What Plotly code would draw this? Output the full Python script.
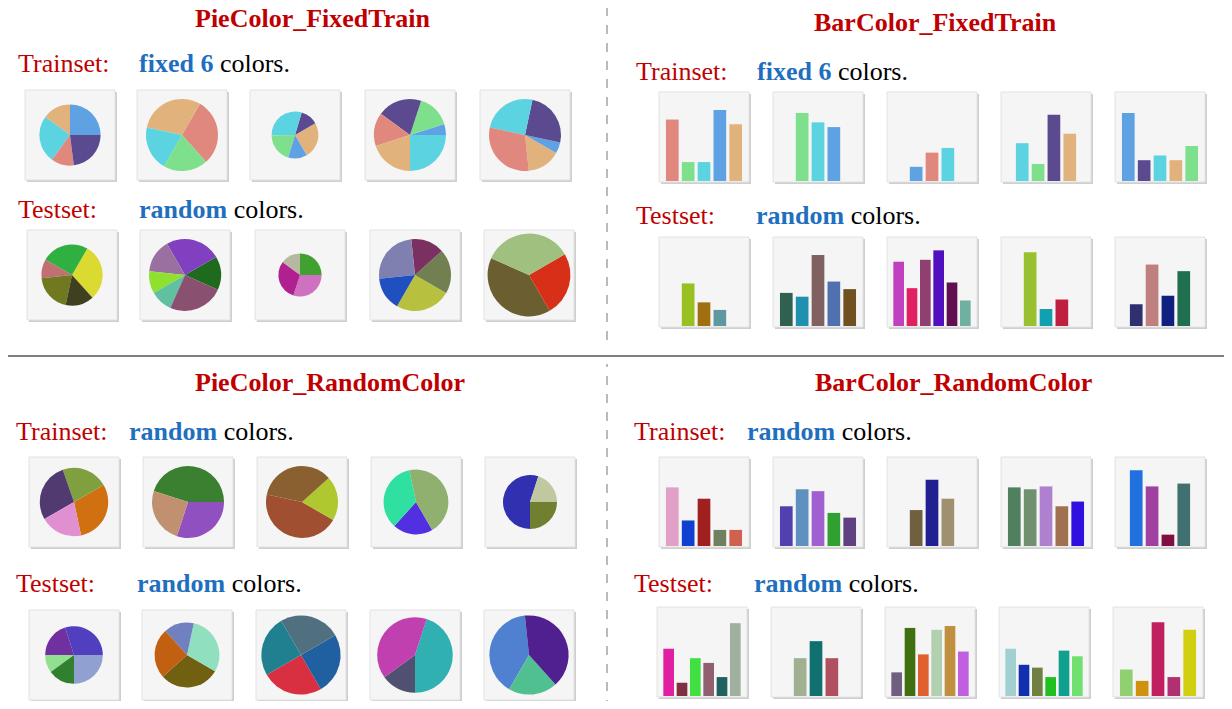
import plotly.graph_objects as go

W, H = 1232, 709
OFF = 8  # page body margin
FW, FH = W - 2*OFF, H - 2*OFF
FIX = dict(s="#E0877E", g="#7EE08C", c="#5BD3E0", b="#5EA2E4", p="#5B4A90", t="#E2B27C")

# ---- Pie data (values, colors) ----
pie_tl_train_vals = [[25,15,25,12,23],[30,30,20,20],[25,12,30,20,13],[25,5,15,20,15,20],[15,5,25,25,30]]
pie_tl_train_cols = [[FIX['b'],FIX['t'],FIX['c'],FIX['s'],FIX['p']],[FIX['s'],FIX['t'],FIX['c'],FIX['g']],
                     [FIX['t'],FIX['p'],FIX['c'],FIX['g'],FIX['b']],[FIX['c'],FIX['b'],FIX['g'],FIX['p'],FIX['s'],FIX['t']],
                     [FIX['t'],FIX['b'],FIX['p'],FIX['c'],FIX['s']]]
pie_tl_test_vals = [[30,25,10,20,15],[15,25,15,10,10,25],[30,25,15,30],[25,20,15,25,15],[40,25,35]]
pie_tl_test_cols = [["#DADA30","#30B040","#C07070","#707820","#3E4020"],
                    ["#1E6B1E","#8040C0","#9A70A0","#90E030","#60C0A0","#8A5070"],
                    ["#D070C0","#40A030","#B8B8A0","#B02090"],
                    ["#B8C040","#708050","#7A3060","#8080B0","#2050C0"],
                    ["#6B5E30","#D83018","#A0C080"]]
pie_bl_train_vals = [[30,22,28,20],[30,45,25],[45,20,35],[20,45,35],[55,25,20]]
pie_bl_train_cols = [["#D07010","#80A040","#503A70","#E090D0"],["#9050C0","#3A8030","#C09070"],
                     ["#A05030","#B0C830","#8A6030"],["#5030E0","#90B070","#30E0A0"],["#3030B0","#708030","#C0C8A0"]]
pie_bl_test_vals = [[25,30,20,10,15],[30,30,15,25],[25,25,25,25],[15,45,40],[40,20,40]]
pie_bl_test_cols = [["#90A0D0","#5040C0","#7030A0","#90E090","#308030"],["#706010","#90E0C0","#7080C0","#C06010"],
                    ["#D83040","#2060A0","#507080","#208090"],["#505070","#30B0B0","#C040B0"],["#5080D0","#50C090","#502090"]]
pie_scales = [[0.85,1.0,0.65,1.0,1.0],[0.85,1.0,0.6,1.0,1.15],[0.95,1.0,1.0,0.9,0.75],[0.8,0.9,1.1,1.05,1.1]]

# ---- Bar data ----
bar_tr_train_vals = [[0.65,0.2,0.2,0.75,0.6],[0.72,0.62,0.57],[0.15,0.3,0.35],[0.4,0.18,0.7,0.5],[0.72,0.22,0.27,0.22,0.37]]
bar_tr_train_cols = [[FIX['s'],FIX['g'],FIX['c'],FIX['b'],FIX['t']],[FIX['g'],FIX['c'],FIX['b']],[FIX['b'],FIX['s'],FIX['c']],
                     [FIX['c'],FIX['g'],FIX['p'],FIX['t']],[FIX['b'],FIX['p'],FIX['c'],FIX['t'],FIX['g']]]
bar_tr_test_vals = [[0.45,0.25,0.17],[0.35,0.31,0.75,0.47,0.39],[0.68,0.4,0.7,0.8,0.46,0.27],[0.78,0.18,0.28],[0.23,0.65,0.32,0.58]]
bar_tr_test_cols = [["#98C020","#A07010","#6098A0"],["#306050","#2090B0","#806060","#5070B0","#705020"],
                    ["#C040C0","#E02060","#904070","#5010C0","#601050","#70B0A0"],["#98C030","#10A0B0","#C02040"],
                    ["#303070","#C08080","#102080","#207050"]]
bar_br_train_vals = [[0.62,0.27,0.5,0.17,0.17],[0.42,0.6,0.58,0.35,0.3],[0.38,0.7,0.5],[0.62,0.6,0.63,0.42,0.47],[0.8,0.63,0.12,0.66]]
bar_br_train_cols = [["#E0A0C8","#1040D0","#A02020","#708060","#D06050"],["#5040B0","#6090C0","#A060D0","#30A030","#604080"],
                     ["#706040","#202090","#A09070"],["#508060","#709070","#B080D0","#A07050","#3010E0"],
                     ["#2070E0","#A040A0","#801040","#407070"]]
bar_br_test_vals = [[0.5,0.14,0.4,0.35,0.2,0.77],[0.4,0.58,0.4],[0.25,0.72,0.44,0.7,0.74,0.47],[0.5,0.33,0.3,0.2,0.48,0.42],[0.28,0.16,0.78,0.2,0.7]]
bar_br_test_cols = [["#E020A0","#803040","#40E040","#906070","#206060","#A0B0A0"],["#A0B090","#107070","#B05060"],
                    ["#706080","#407010","#E06030","#B0D0B0","#C09040","#C060E0"],
                    ["#A0D0D0","#1030B0","#708040","#20C020","#10A090","#70E070"],
                    ["#90D070","#D09010","#C02060","#B03070","#D0D010"]]

# ---- layout of thumbnails (pixel boxes: x0, y0) ----
BOX = 90
pie_boxes = [
    [(25,90),(137,90),(250,90),(365,90),(480,90)],
    [(27,230),(140,230),(255,230),(370,230),(484,230)],
    [(29,457),(143,457),(257,457),(371,457),(485,457)],
    [(29,610),(142,610),(256,610),(370,610),(484,610)],
]
bar_boxes = [
    [(659,92),(773,92),(887,92),(1001,92),(1115,92)],
    [(659,237),(773,237),(887,237),(1001,237),(1115,237)],
    [(659,457),(773,457),(887,457),(1001,457),(1115,457)],
    [(657,607),(771,607),(885,607),(999,607),(1113,607)],
]

def px(x): return (x - OFF) / FW
def py(y): return 1 - (y - OFF) / FH

fig = go.Figure()
shapes = []
def thumb(x0, y0):
    shapes.append(dict(type="rect", xref="paper", yref="paper", x0=px(x0+2), x1=px(x0+BOX+2),
                       y0=py(y0+BOX+2), y1=py(y0+2), fillcolor="#CFCFCF", line=dict(width=0), layer="below"))
    shapes.append(dict(type="rect", xref="paper", yref="paper", x0=px(x0), x1=px(x0+BOX),
                       y0=py(y0+BOX), y1=py(y0), fillcolor="#F5F5F5", line=dict(width=1, color="#E2E2E2"), layer="below"))

pie_sets = [(pie_tl_train_vals, pie_tl_train_cols), (pie_tl_test_vals, pie_tl_test_cols),
            (pie_bl_train_vals, pie_bl_train_cols), (pie_bl_test_vals, pie_bl_test_cols)]
for r, (vals, cols) in enumerate(pie_sets):
    for i in range(5):
        x0, y0 = pie_boxes[r][i]
        thumb(x0, y0)
        d = 72 * pie_scales[r][i]
        cx, cy = x0 + BOX/2, y0 + BOX/2
        fig.add_trace(go.Pie(values=vals[i], marker=dict(colors=cols[i], line=dict(width=0)),
                             sort=False, textinfo="none", hoverinfo="none", showlegend=False,
                             rotation=30*(i+r), domain=dict(x=[px(cx-d/2), px(cx+d/2)], y=[py(cy+d/2), py(cy-d/2)])))

bar_sets = [(bar_tr_train_vals, bar_tr_train_cols), (bar_tr_test_vals, bar_tr_test_cols),
            (bar_br_train_vals, bar_br_train_cols), (bar_br_test_vals, bar_br_test_cols)]
axes = {}
k = 0
for r, (vals, cols) in enumerate(bar_sets):
    for i in range(5):
        k += 1
        x0, y0 = bar_boxes[r][i]
        thumb(x0, y0)
        n = len(vals[i])
        sfx = "" if k == 1 else str(k)
        fig.add_trace(go.Bar(x=list(range(n)), y=vals[i], marker=dict(color=cols[i], line=dict(width=0)),
                             width=0.8, showlegend=False, hoverinfo="none", xaxis="x"+sfx, yaxis="y"+sfx))
        half = max(n, 5) / 2 + 0.15
        c = (n - 1) / 2
        axes["xaxis"+sfx] = dict(domain=[px(x0+3), px(x0+BOX-3)], range=[c-half, c+half], visible=False,
                                anchor="y"+sfx, fixedrange=True)
        axes["yaxis"+sfx] = dict(domain=[py(y0+BOX-1), py(y0+2)], range=[0, 0.92], visible=False,
                                anchor="x"+sfx, fixedrange=True)

RED = "#C00000"; BLUE = "#1F6FBF"
annos = []
def txt(x, y, s, size=26, anchor="left"):
    annos.append(dict(xref="paper", yref="paper", x=px(x), y=py(y), text=s, showarrow=False,
                      xanchor=anchor, yanchor="middle", font=dict(family="Liberation Serif", size=size, color="black")))
def title(x, y, s): txt(x, y, f"<b><span style='color:{RED}'>{s}</span></b>", size=26, anchor="center")
def line(x, y, label, gap, word):
    txt(x, y, f"<span style='color:{RED}'>{label}</span>")
    txt(gap, y, f"<b><span style='color:{BLUE}'>{word}</span></b> colors.")

title(312, 18, "PieColor_FixedTrain")
line(16, 64, "Trainset:", 137, "fixed 6")
line(16, 210, "Testset:", 137, "random")
title(935, 22, "BarColor_FixedTrain")
line(634, 71, "Trainset:", 755, "fixed 6")
line(634, 215, "Testset:", 754, "random")
title(330, 382, "PieColor_RandomColor")
line(14, 431, "Trainset:", 127, "random")
line(14, 583, "Testset:", 135, "random")
title(953, 382, "BarColor_RandomColor")
line(632, 431, "Trainset:", 745, "random")
line(632, 583, "Testset:", 752, "random")

shapes.append(dict(type="line", xref="paper", yref="paper", x0=px(0), x1=px(W), y0=py(356), y1=py(356),
                   line=dict(color="black", width=1)))
for a, b in [(0, 340), (364, 709)]:
    shapes.append(dict(type="line", xref="paper", yref="paper", x0=px(607), x1=px(607), y0=py(b), y1=py(a),
                       line=dict(color="#777777", width=1, dash="dash")))

fig.update_layout(width=FW, height=FH, margin=dict(l=0, r=0, t=0, b=0), paper_bgcolor="white",
                  plot_bgcolor="rgba(0,0,0,0)", shapes=shapes, annotations=annos, bargap=0.2, **axes)
fig.write_html("out.html")
